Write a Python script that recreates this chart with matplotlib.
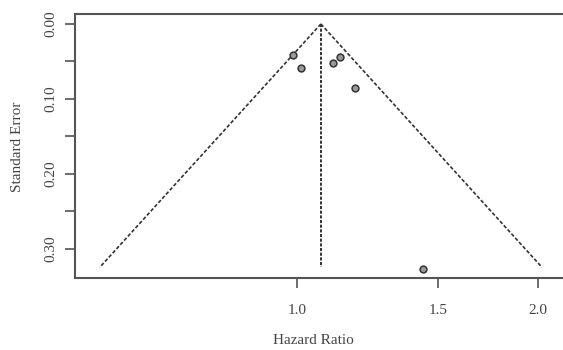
import numpy as np
import matplotlib
matplotlib.use("Agg")
import matplotlib.pyplot as plt
from matplotlib.ticker import FixedLocator, NullLocator

# study estimates
hazard_ratio = [0.989, 1.011, 1.110, 1.132, 1.182, 1.438]
std_error = [0.0413, 0.059, 0.0516, 0.0436, 0.085, 0.3267]
pooled_hr = 1.071
max_se = 0.3245

x_ticks = [1.0, 1.5, 2.0]
x_tick_labels = ["1.0", "1.5", "2.0"]
y_ticks = [0.00, 0.05, 0.10, 0.15, 0.20, 0.25, 0.30]
y_tick_labels = ["0.00", "", "0.10", "", "0.20", "", "0.30"]

plt.rcParams["font.family"] = ["Liberation Serif", "DejaVu Serif"]
text_color = "#444444"
axis_color = "#555555"

W, H = 563, 350
fig = plt.figure(figsize=(W / 100, H / 100), dpi=100)
ax = fig.add_axes([75 / W, 1 - 278 / H, (W - 75) / W, (278 - 14) / H])

ax.set_xscale("log")
ax.set_xlim(0.528, 2.149)
ax.set_ylim(0.3387, -0.0133)

# pseudo confidence funnel
se = np.array([0.0, max_se])
ax.plot(pooled_hr * np.exp(-1.96 * se), se, color="#333333", lw=1.2,
        ls=(0, (2.2, 1.2)))
ax.plot(pooled_hr * np.exp(1.96 * se), se, color="#333333", lw=1.2,
        ls=(0, (2.2, 1.2)))
ax.plot([pooled_hr, pooled_hr], [0.0, max_se], color="#333333", lw=1.4,
        ls=(0, (1.6, 0.8)))

ax.scatter(hazard_ratio, std_error, s=24, facecolor="#999999",
           edgecolor="#333333", linewidth=1.1, zorder=3)

ax.xaxis.set_major_locator(FixedLocator(x_ticks))
ax.xaxis.set_minor_locator(NullLocator())
ax.set_xticklabels(x_tick_labels)
ax.yaxis.set_major_locator(FixedLocator(y_ticks))
ax.set_yticklabels(y_tick_labels, rotation=90, va="center")

ax.tick_params(axis="both", direction="out", length=7, width=1.2,
               colors=axis_color, labelcolor=text_color, labelsize=11)
ax.tick_params(axis="x", pad=12)
ax.tick_params(axis="y", pad=6)

for side in ["left", "top", "bottom"]:
    ax.spines[side].set_color(axis_color)
    ax.spines[side].set_linewidth(1.5)
ax.spines["right"].set_visible(False)

fig.text(313 / W, 1 - 341 / H, "Hazard Ratio", ha="center", va="center",
         fontsize=11, color=text_color)
fig.text(18 / W, 1 - 147 / H, "Standard Error", ha="center", va="center",
         rotation=90, fontsize=11, color=text_color)

fig.savefig("out.png", dpi=100)
